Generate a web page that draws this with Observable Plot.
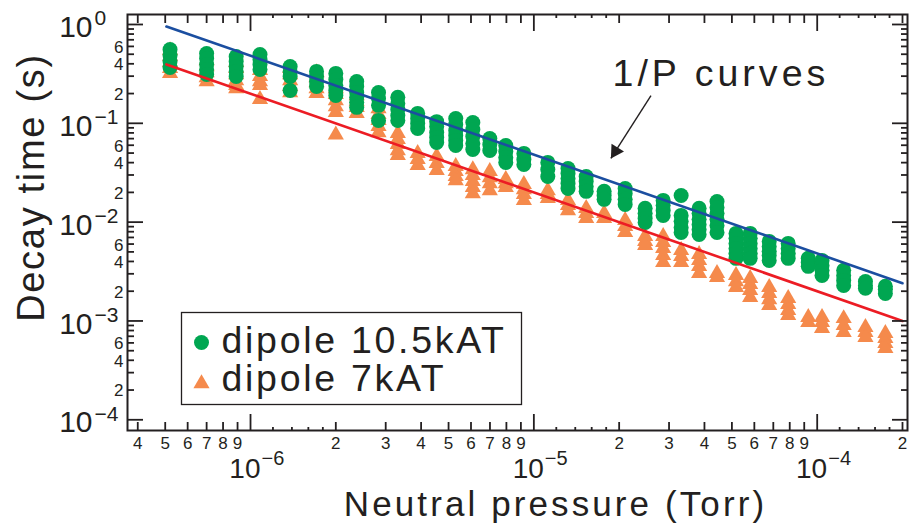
<!DOCTYPE html>
<html><head><meta charset="utf-8">
<script src="https://cdn.jsdelivr.net/npm/d3@7"></script>
<script src="https://cdn.jsdelivr.net/npm/@observablehq/plot@0.6"></script>
<style>
html,body{margin:0;padding:0;background:#fff;}
#chart{width:910px;height:523px;}
g[font-size="38"] text{letter-spacing:1.7px;}
g[font-size="35"] text{letter-spacing:3.1px;}
g[font-size="37.5"] text{letter-spacing:2.7px;}
g[font-size="37.6"] text{letter-spacing:4px;}
</style></head><body><div id="chart"></div>
<script>
// ---- data ----
const pressure = [5.2e-7, 7.0e-7, 8.9e-7, 1.08e-6, 1.38e-6, 1.71e-6, 2.0e-6, 2.37e-6, 2.83e-6, 3.31e-6,
  3.89e-6, 4.54e-6, 5.30e-6, 6.09e-6, 6.99e-6, 7.96e-6, 9.22e-6, 1.12e-5, 1.32e-5, 1.53e-5,
  1.77e-5, 2.10e-5, 2.47e-5, 2.86e-5, 3.31e-5, 3.83e-5, 4.43e-5, 5.17e-5, 5.80e-5, 6.77e-5,
  7.90e-5, 9.30e-5, 1.04e-4, 1.24e-4, 1.48e-4, 1.74e-4];

const tau10_5kAT = [
  [0.559, 0.486, 0.422, 0.367],
  [0.509, 0.453, 0.394, 0.351, 0.312],
  [0.475, 0.422, 0.376, 0.335, 0.298],
  [0.497, 0.443, 0.394, 0.351],
  [0.376, 0.335, 0.298, 0.215],
  [0.335, 0.298, 0.265, 0.236],
  [0.320, 0.278, 0.242, 0.215, 0.191],
  [0.265, 0.236, 0.205, 0.183, 0.163, 0.145],
  [0.205, 0.178, 0.152, 0.107],
  [0.183, 0.159, 0.138, 0.120, 0.107],
  [0.126, 0.112, 0.0997, 0.0887],
  [0.104, 0.0930, 0.0808, 0.0719, 0.0640],
  [0.112, 0.0974, 0.0847, 0.0754, 0.0671, 0.0597],
  [0.102, 0.0867, 0.0736, 0.0626, 0.0544],
  [0.0703, 0.0611, 0.0531],
  [0.0597, 0.0519, 0.0452, 0.0402],
  [0.0496, 0.0431, 0.0384],
  [0.0402, 0.0341, 0.0290],
  [0.0349, 0.0311, 0.0277, 0.0246, 0.0219],
  [0.0290, 0.0258, 0.0230, 0.0205],
  [0.0205, 0.0186, 0.0170],
  [0.0219, 0.0195, 0.0170, 0.0151],
  [0.0138, 0.0123, 0.0109, 0.00994],
  [0.0166, 0.0148, 0.0131, 0.0117],
  [0.0186, 0.0117, 0.0102, 0.00885, 0.00787],
  [0.0138, 0.0123, 0.0107, 0.00948, 0.00844, 0.00751],
  [0.0162, 0.0141, 0.0123, 0.0107, 0.00927, 0.00787],
  [0.00769, 0.00685, 0.00609, 0.00542, 0.00483, 0.00430],
  [0.00769, 0.00685, 0.00609, 0.00542, 0.00483, 0.00430],
  [0.00638, 0.00568, 0.00506, 0.00461, 0.00410],
  [0.00609, 0.00542, 0.00483, 0.00430],
  [0.00430, 0.00391, 0.00357],
  [0.00410, 0.00365, 0.00325, 0.00289],
  [0.00325, 0.00289, 0.00257, 0.00229],
  [0.00251, 0.00229, 0.00214],
  [0.00224, 0.00209, 0.00190]
];

const tau7kAT = [
  [0.546, 0.475, 0.413, 0.359, 0.320],
  [0.432, 0.376, 0.327, 0.291, 0.265],
  [0.413, 0.359, 0.312, 0.271, 0.242, 0.225],
  [0.343, 0.298, 0.265, 0.242, 0.175],
  [0.359, 0.312, 0.271, 0.236, 0.205],
  [0.327, 0.291, 0.259, 0.225, 0.201],
  [0.225, 0.196, 0.170, 0.148, 0.129, 0.0765],
  [0.191, 0.166, 0.145, 0.126],
  [0.141, 0.123, 0.107, 0.0930, 0.0808],
  [0.0790, 0.0687, 0.0611, 0.0531, 0.0473],
  [0.0496, 0.0431, 0.0375],
  [0.0462, 0.0393, 0.0334],
  [0.0366, 0.0326, 0.0290, 0.0264],
  [0.0341, 0.0297, 0.0258, 0.0225, 0.0195],
  [0.0326, 0.0283, 0.0246, 0.0209],
  [0.0271, 0.0246, 0.0225],
  [0.0241, 0.0214, 0.0191, 0.0166],
  [0.0209, 0.0191, 0.0174],
  [0.0166, 0.0148, 0.0131],
  [0.0138, 0.0123, 0.0109],
  [0.0123, 0.0109],
  [0.0104, 0.00905, 0.00787],
  [0.00717, 0.00638, 0.00582],
  [0.00717, 0.00624, 0.00542, 0.00461, 0.00391],
  [0.00518, 0.00450, 0.00391],
  [0.00472, 0.00410, 0.00357, 0.00303],
  [0.00303, 0.00276],
  [0.00289, 0.00251, 0.00219],
  [0.00270, 0.00235, 0.00204, 0.00173],
  [0.00219, 0.00190, 0.00165, 0.00144],
  [0.00169, 0.00147, 0.00128, 0.00114],
  [0.00109, 0.000968],
  [0.00109, 0.000968, 0.000841],
  [0.00106, 0.000902, 0.000766],
  [0.000861, 0.000766, 0.000682],
  [0.000749, 0.000667, 0.000593, 0.000528]
];

// 1/P reference curves (end points)
const curveP = [5.05e-7, 2.0e-4];
const curveBlueTau = [0.954, 0.00241];
const curveRedTau = [0.394, 0.00100];

// arrow of the "1/P curves" annotation (start, tip)
const arrowP = [2.59e-5, 1.87e-5];
const arrowTau = [0.191, 0.0441];

// axes
const xDomain = [3.68e-7, 2.083e-4];
const yDomain = [7.79e-5, 1.262];
const xMajorTicks = [1e-6, 1e-5, 1e-4];
const xMajorExp = ["\u22126", "\u22125", "\u22124"];
const xMinorTicks = [4e-7, 5e-7, 6e-7, 7e-7, 8e-7, 9e-7,
  2e-6, 3e-6, 4e-6, 5e-6, 6e-6, 7e-6, 8e-6, 9e-6,
  2e-5, 3e-5, 4e-5, 5e-5, 6e-5, 7e-5, 8e-5, 9e-5, 2e-4];
const xMinorLabels = ["4", "5", "6", "7", "8", "9", "2", "3", "4", "5", "6", "7", "8", "9",
  "2", "3", "4", "5", "6", "7", "8", "9", "2"];
const xTinyTicks = [1.2e-6, 1.4e-6, 1.6e-6, 1.8e-6, 1.2e-5, 1.4e-5, 1.6e-5, 1.8e-5, 1.2e-4, 1.4e-4, 1.6e-4, 1.8e-4];
const yMajorTicks = [1, 0.1, 0.01, 0.001, 0.0001];
const yMajorExp = ["0", "\u22121", "\u22122", "\u22123", "\u22124"];
const yMinorTicks = [0.9, 0.8, 0.7, 0.6, 0.5, 0.4, 0.3, 0.2,
  0.09, 0.08, 0.07, 0.06, 0.05, 0.04, 0.03, 0.02,
  0.009, 0.008, 0.007, 0.006, 0.005, 0.004, 0.003, 0.002,
  0.0009, 0.0008, 0.0007, 0.0006, 0.0005, 0.0004, 0.0003, 0.0002];
const yMinorLabelTicks = [0.6, 0.4, 0.2, 0.06, 0.04, 0.02, 0.006, 0.004, 0.002, 0.0006, 0.0004, 0.0002];
const yMinorLabels = ["6", "4", "2", "6", "4", "2", "6", "4", "2", "6", "4", "2"];

const seriesNames = ["dipole 10.5kAT", "dipole 7kAT"];

// ---- build ----
const INK = "#231f20";
const GREEN = "#00a651", ORANGE = "#f58a4c", BLUE = "#1b4ea0", RED = "#ec1c24";
const FONT = '"Liberation Sans", Arial, Helvetica, sans-serif';

const pts10 = pressure.flatMap((p, i) => tau10_5kAT[i].map(t => ({P: p, tau: t})));
const pts7 = pressure.flatMap((p, i) => tau7kAT[i].map(t => ({P: p, tau: t})));
const blue = curveP.map((p, i) => ({P: p, tau: curveBlueTau[i]}));
const red = curveP.map((p, i) => ({P: p, tau: curveRedTau[i]}));
const arrow = [{P1: arrowP[0], t1: arrowTau[0], P2: arrowP[1], t2: arrowTau[1]}];
const xMinor = xMinorTicks.map((v, i) => ({v, s: xMinorLabels[i]}));
const yMinorL = yMinorLabelTicks.map((v, i) => ({v, s: yMinorLabels[i]}));
const xMaj = xMajorTicks.map((v, i) => ({v, e: xMajorExp[i]}));
const yMaj = yMajorTicks.map((v, i) => ({v, e: yMajorExp[i]}));

const tk = {fill: "none", stroke: INK, strokeWidth: 1.8};

const chart = Plot.plot({
  width: 910, height: 523,
  marginLeft: 127, marginTop: 14, marginRight: 3, marginBottom: 93,
  x: {type: "log", domain: xDomain, label: null},
  y: {type: "log", domain: yDomain, label: null},
  style: {fontFamily: FONT, background: "#fff", color: INK, overflow: "visible"},
  marks: [
    Plot.dot(pts7, {x: "P", y: "tau", symbol: "triangle", r: 6, fill: ORANGE}),
    Plot.dot(pts10, {x: "P", y: "tau", symbol: "circle", r: 7.5, fill: GREEN}),
    Plot.line(blue, {x: "P", y: "tau", stroke: BLUE, strokeWidth: 2.6}),
    Plot.line(red, {x: "P", y: "tau", stroke: RED, strokeWidth: 2.6}),
    Plot.frame({stroke: INK, strokeWidth: 2}),
    // ticks (inward) on all four sides
    Plot.axisX(xMajorTicks, {anchor: "bottom", tickSize: -16, ...tk}),
    Plot.axisX(xMinorTicks, {anchor: "bottom", tickSize: -8, ...tk}),
    Plot.axisX(xTinyTicks, {anchor: "bottom", tickSize: -3, ...tk}),
    Plot.axisX(xMajorTicks, {anchor: "top", tickSize: -16, ...tk}),
    Plot.axisX(xMinorTicks, {anchor: "top", tickSize: -8, ...tk}),
    Plot.axisX(xTinyTicks, {anchor: "top", tickSize: -3, ...tk}),
    Plot.axisY(yMajorTicks, {anchor: "left", tickSize: -16, ...tk}),
    Plot.axisY(yMinorTicks, {anchor: "left", tickSize: -7, ...tk}),
    Plot.axisY(yMajorTicks, {anchor: "right", tickSize: -16, ...tk}),
    Plot.axisY(yMinorTicks, {anchor: "right", tickSize: -7, ...tk}),
    // tick labels
    Plot.text(xMaj, {x: "v", frameAnchor: "bottom", text: () => "10", textAnchor: "end", lineAnchor: "middle", dx: 10, dy: 38.5, fontSize: 28, fill: INK}),
    Plot.text(xMaj, {x: "v", frameAnchor: "bottom", text: "e", textAnchor: "start", lineAnchor: "middle", dx: 11, dy: 28, fontSize: 20, fill: INK}),
    Plot.text(xMinor, {x: "v", frameAnchor: "bottom", text: "s", textAnchor: "middle", lineAnchor: "middle", dy: 13, fontSize: 17, fill: INK}),
    Plot.text(yMaj, {y: "v", frameAnchor: "left", text: () => "10", textAnchor: "end", lineAnchor: "middle", dx: -35, dy: 3, fontSize: 30, fill: INK}),
    Plot.text(yMaj, {y: "v", frameAnchor: "left", text: "e", textAnchor: "start", lineAnchor: "middle", dx: -33, dy: -6, fontSize: 21, fill: INK}),
    Plot.text(yMinorL, {y: "v", frameAnchor: "left", text: "s", textAnchor: "end", lineAnchor: "middle", dx: -4, dy: 1, fontSize: 17, fill: INK}),
    // axis titles
    Plot.text(["Decay time (s)"], {frameAnchor: "left", text: d => d, rotate: -90, textAnchor: "middle", lineAnchor: "middle", dx: -96, dy: -35, fontSize: 38, fill: INK}),
    Plot.text(["Neutral pressure (Torr)"], {frameAnchor: "bottom", text: d => d, textAnchor: "middle", lineAnchor: "middle", dx: 38, dy: 74.3, fontSize: 35, fill: INK}),
    // legend
    Plot.frame({insetLeft: 54, insetTop: 298, insetRight: 386, insetBottom: 26, fill: "#fff", stroke: INK, strokeWidth: 1.3}),
    Plot.dot([seriesNames[0]], {frameAnchor: "bottom-left", dx: 74, dy: -88, r: 7.5, fill: GREEN}),
    Plot.dot([seriesNames[1]], {frameAnchor: "bottom-left", dx: 74, dy: -47, symbol: "triangle", r: 6, fill: ORANGE}),
    Plot.text([seriesNames[0]], {frameAnchor: "bottom-left", text: d => d, textAnchor: "start", lineAnchor: "middle", dx: 94, dy: -90, fontSize: 37.5, fill: INK}),
    Plot.text([seriesNames[1]], {frameAnchor: "bottom-left", text: d => d, textAnchor: "start", lineAnchor: "middle", dx: 94, dy: -52, fontSize: 37.5, fill: INK}),
    // annotation
    Plot.text(["1/P curves"], {frameAnchor: "top-left", text: d => d, textAnchor: "start", lineAnchor: "middle", dx: 485, dy: 59, fontSize: 37.6, fill: INK}),
    Plot.link(arrow, {x1: "P1", y1: "t1", x2: "P2", y2: "t2", stroke: INK, strokeWidth: 1.4}),
    Plot.dot(arrow, {x: "P2", y: "t2", symbol: "triangle", r: 5.5, rotate: 212.4, fill: INK, dx: 4.6, dy: -7.2})
  ]
});
document.getElementById("chart").appendChild(chart);
</script></body></html>
